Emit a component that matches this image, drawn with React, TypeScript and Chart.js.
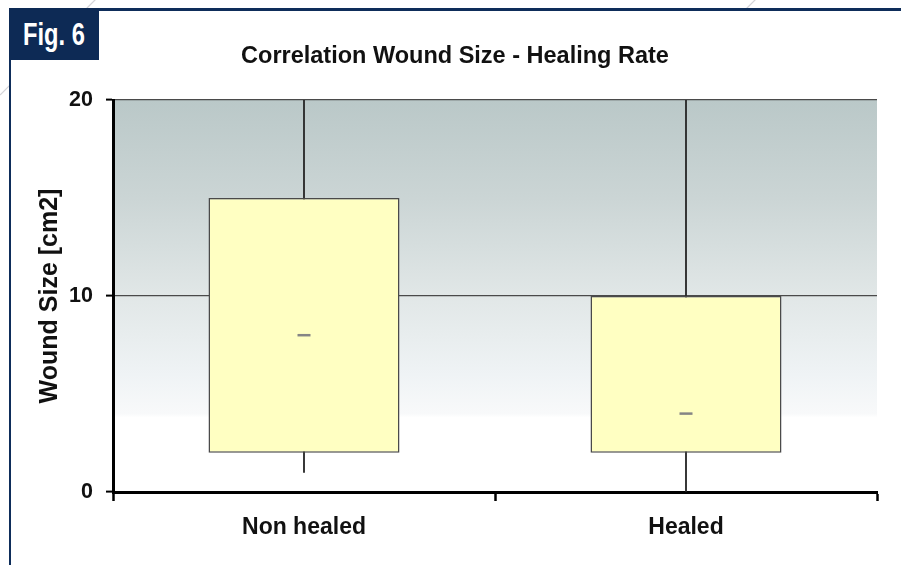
import React, { useEffect, useRef } from "react";
import { Chart, registerables } from "chart.js";

Chart.register(...registerables);

const categories = ["Non healed", "Healed"];
const boxLow = [2, 2];
const boxHigh = [15, 10];
const whiskerLow = [1, 0];
const whiskerHigh = [20, 20];
const medians = [8, 4];
const yTickValues = [0, 10, 20];

const FONT = "'Liberation Sans', Arial, Helvetica, sans-serif";

const bgPlugin = {
  id: "bgGradient",
  beforeDraw(chart: any) {
    const { ctx, chartArea } = chart;
    if (!chartArea) return;
    const { left, top, right, bottom } = chartArea;
    const g = ctx.createLinearGradient(0, top, 0, bottom);
    g.addColorStop(0, "#bac8c8");
    g.addColorStop(0.25, "#cbd5d5");
    g.addColorStop(0.5, "#e1e7e7");
    g.addColorStop(0.7, "#eff3f5");
    g.addColorStop(0.8, "#f8f9fa");
    g.addColorStop(0.81, "#ffffff");
    g.addColorStop(1, "#ffffff");
    ctx.save();
    ctx.fillStyle = g;
    ctx.fillRect(left, top, right - left, bottom - top);
    ctx.restore();
  },
};

export default function App() {
  const ref = useRef<HTMLCanvasElement | null>(null);

  useEffect(() => {
    document.body.style.margin = "0";
    const canvas = ref.current;
    if (!canvas) return;
    const chart = new Chart(canvas, {
      type: "bar",
      data: {
        labels: categories,
        datasets: [
          {
            type: "line",
            label: "Median",
            data: medians,
            showLine: false,
            pointStyle: "line",
            pointRadius: 6.5,
            pointBorderWidth: 2.5,
            borderColor: "#858585",
            backgroundColor: "#858585",
            order: 0,
          } as any,
          {
            label: "Box",
            data: categories.map((_, i) => [boxLow[i], boxHigh[i]]),
            backgroundColor: "#ffffc2",
            borderColor: "#4a4a4a",
            borderWidth: 1.5,
            borderSkipped: false,
            barPercentage: 0.5,
            categoryPercentage: 1,
            grouped: false,
            order: 1,
          } as any,
          {
            label: "Whisker",
            data: categories.map((_, i) => [whiskerLow[i], whiskerHigh[i]]),
            backgroundColor: "#2a2a2a",
            borderWidth: 0,
            barThickness: 1.2,
            grouped: false,
            order: 2,
          } as any,
        ],
      },
      options: {
        responsive: false,
        animation: false,
        devicePixelRatio: 1,
        layout: { padding: { left: 33, right: 24, top: 0, bottom: 0 } },
        plugins: {
          legend: { display: false },
          tooltip: { enabled: false },
          title: {
            display: true,
            text: "Correlation Wound Size - Healing Rate",
            color: "#111",
            font: { family: FONT, size: 23.5, weight: "bold" },
            padding: { top: 42.5, bottom: 29.3 },
          },
        },
        scales: {
          x: {
            type: "category",
            offset: true,
            grid: {
              offset: true,
              drawOnChartArea: false,
              drawTicks: true,
              tickLength: 9,
              tickWidth: 2.5,
              tickColor: "#000",
            },
            border: { display: true, width: 3, color: "#000" },
            ticks: {
              color: "#111",
              padding: 13,
              font: { family: FONT, size: 23, weight: "bold" },
            },
            afterFit: (scale: any) => {
              scale.height = 73;
            },
          },
          y: {
            min: 0,
            max: 20,
            afterBuildTicks: (scale: any) => {
              scale.ticks = yTickValues.map((v) => ({ value: v }));
            },
            grid: {
              color: "#4a4a4a",
              lineWidth: 1.2,
              tickLength: 7,
              tickColor: "#000",
              tickWidth: 2,
            },
            border: { display: true, width: 3, color: "#000" },
            ticks: {
              color: "#111",
              padding: 13,
              font: { family: FONT, size: 21.5, weight: "bold" },
            },
            title: {
              display: true,
              text: "Wound Size [cm2]",
              color: "#111",
              font: { family: FONT, size: 25, weight: "bold" },
              padding: { top: 2, bottom: 0 },
            },
            afterFit: (scale: any) => {
              scale.width = 80;
            },
          },
        },
      },
      plugins: [bgPlugin],
    });
    return () => chart.destroy();
  }, []);

  return (
    <div
      style={{
        position: "absolute",
        left: 0,
        top: 0,
        width: 901,
        height: 565,
        background: "#fff",
        overflow: "hidden",
      }}
    >
      <svg
        width={901}
        height={565}
        style={{ position: "absolute", left: 0, top: 0 }}
      >
        <line x1={0} y1={95} x2={100} y2={-5} stroke="#d4d4d8" strokeWidth={1.2} />
        <line x1={735} y1={20} x2={760} y2={-5} stroke="#d4d4d8" strokeWidth={1.2} />
      </svg>
      <div
        style={{
          position: "absolute",
          left: 9,
          top: 8,
          width: 892,
          height: 557,
          borderTop: "3px solid #0e2d5a",
          borderLeft: "2px solid #0e2d5a",
          background: "#fff",
          boxSizing: "border-box",
        }}
      />
      <canvas
        ref={ref}
        width={901}
        height={565}
        style={{ position: "absolute", left: 0, top: 0, width: 901, height: 565 }}
      />
      <div
        style={{
          position: "absolute",
          left: 9,
          top: 8,
          width: 90,
          height: 52,
          background: "#0d2a55",
        }}
      >
        <div
          style={{
            position: "absolute",
            left: 14,
            top: 0,
            color: "#fff",
            fontFamily: FONT,
            fontWeight: "bold",
            fontSize: 32,
            lineHeight: "52px",
            whiteSpace: "nowrap",
            transform: "scaleX(0.74)",
            transformOrigin: "left center",
          }}
        >
          Fig. 6
        </div>
      </div>
    </div>
  );
}
